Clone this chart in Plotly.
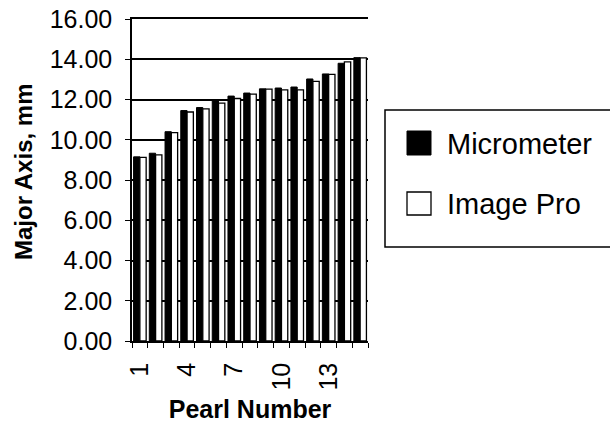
import plotly.graph_objects as go

pearls = list(range(1, 16))
micrometer = [9.15, 9.33, 10.40, 11.45, 11.60, 11.98, 12.17, 12.32, 12.53, 12.57, 12.62, 13.02, 13.27, 13.80, 14.08]
image_pro = [9.12, 9.25, 10.35, 11.38, 11.53, 11.82, 12.05, 12.27, 12.52, 12.48, 12.48, 12.90, 13.25, 13.87, 14.07]
series_names = ["Micrometer", "Image Pro"]
x_tick_vals = [1, 4, 7, 10, 13]
x_tick_text = ["1", "4", "7", "10", "13"]
y_tick_vals = [0, 2, 4, 6, 8, 10, 12, 14, 16]
x_title = "Pearl Number"
y_title = "Major Axis, mm"

FONT = "Liberation Sans"

fig = go.Figure()
fig.add_trace(go.Bar(x=pearls, y=micrometer, name=series_names[0],
                     marker=dict(color="black", line=dict(color="black", width=1)),
                     showlegend=False))
fig.add_trace(go.Bar(x=pearls, y=image_pro, name=series_names[1],
                     marker=dict(color="white", line=dict(color="black", width=1.3)),
                     showlegend=False))

# Manual legend (box, swatches, labels)
L, T = 132, 19
W, H = 236, 322
def px(x):
    return (x - L) / W
def py(y):
    return (T + H - y) / H

shapes = [
    dict(type="rect", xref="paper", yref="paper", x0=px(385), x1=px(615), y0=py(247), y1=py(110),
         line=dict(color="black", width=1.5), fillcolor="white"),
    dict(type="rect", xref="paper", yref="paper", x0=px(407), x1=px(431), y0=py(155), y1=py(131),
         line=dict(color="black", width=1), fillcolor="black"),
    dict(type="rect", xref="paper", yref="paper", x0=px(407), x1=px(431), y0=py(215), y1=py(192),
         line=dict(color="black", width=1.3), fillcolor="white"),
]
annotations = [
    dict(xref="paper", yref="paper", x=px(445), y=py(144), text=series_names[0], showarrow=False,
         xanchor="left", yanchor="middle", font=dict(family=FONT, size=29, color="black")),
    dict(xref="paper", yref="paper", x=px(445), y=py(204), text=series_names[1], showarrow=False,
         xanchor="left", yanchor="middle", font=dict(family=FONT, size=29, color="black")),
    dict(xref="paper", yref="paper", x=px(24), y=py(172), text="<b>" + y_title + "</b>", showarrow=False,
         textangle=-90, xanchor="center", yanchor="middle",
         font=dict(family=FONT, size=24, color="black")),
]

fig.update_layout(
    width=610, height=423,
    margin=dict(l=L, r=610 - L - W, t=T, b=423 - T - H, autoexpand=False),
    paper_bgcolor="white", plot_bgcolor="white",
    barmode="group", bargap=0.2, bargroupgap=0.0,
    font=dict(family=FONT, color="black"),
    shapes=shapes, annotations=annotations,
    showlegend=False,
)
fig.update_xaxes(
    automargin=False,
    range=[0.5, 15.5], tickmode="array", tickvals=x_tick_vals, ticktext=x_tick_text,
    tickangle=-90, ticks="", tickfont=dict(family=FONT, size=25, color="black"),
    ticklabelstandoff=10,
    showline=True, mirror=True, linecolor="black", linewidth=1.5, showgrid=False, zeroline=False,
    minor=dict(tickmode="array", tickvals=[i + 0.5 for i in range(0, 16)], ticks="outside",
               ticklen=5, tickcolor="black", tickwidth=1, showgrid=False),
    title=dict(text="<b>" + x_title + "</b>", font=dict(family=FONT, size=25, color="black"), standoff=22),
)
fig.update_yaxes(
    automargin=False,
    range=[0, 16], tickmode="array", tickvals=y_tick_vals, tickformat=".2f",
    ticks="outside", ticklen=5, tickcolor="black", tickwidth=1,
    tickfont=dict(family=FONT, size=25, color="black"),
    ticklabelstandoff=8,
    showline=True, linecolor="black", linewidth=1.5,
    showgrid=True, gridcolor="black", gridwidth=1.5, zeroline=False,
)

fig.write_html("out.html")
